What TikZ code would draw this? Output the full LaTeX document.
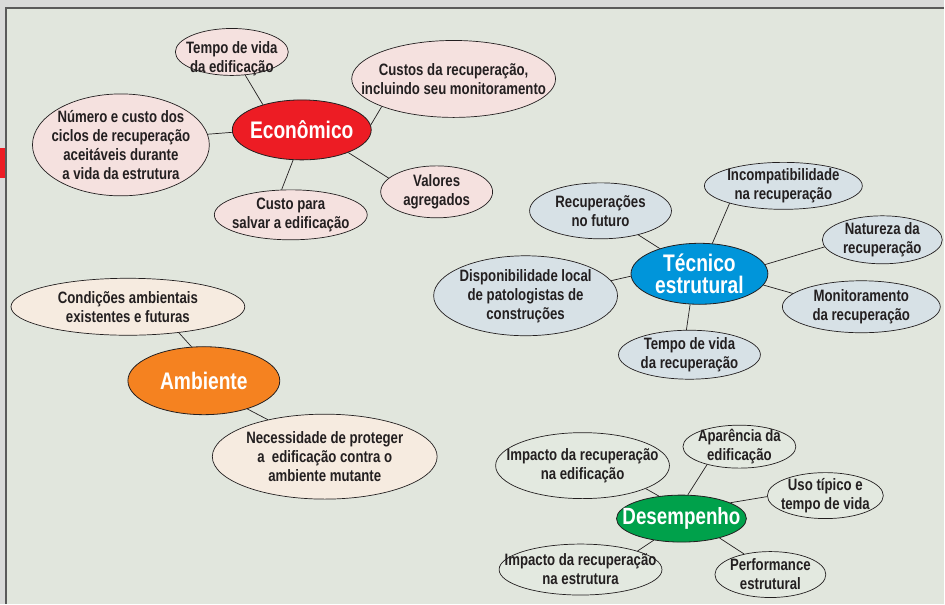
\documentclass[tikz,border=0pt]{standalone}
\usepackage{fontspec}
\setmainfont{Liberation Sans}[FakeStretch=0.8]
\usetikzlibrary{shapes.geometric}

\definecolor{pagegray}{HTML}{D9DAD9}
\definecolor{framebg}{HTML}{E1E6DD}
\definecolor{framegray}{HTML}{5A5A5A}
\definecolor{inkdark}{HTML}{231F20}
\definecolor{econred}{HTML}{ED1C24}
\definecolor{tecblue}{HTML}{0095DA}
\definecolor{ambor}{HTML}{F58220}
\definecolor{desgreen}{HTML}{00A14B}
\definecolor{econfill}{HTML}{F5E1DF}
\definecolor{tecfill}{HTML}{D7E1E6}
\definecolor{ambfill}{HTML}{F6EBE0}
\definecolor{desfill}{HTML}{E3E9E0}

\tikzset{
  topictext/.style={inner sep=0pt, align=center, text=white, font=\bfseries\fontsize{24}{22}\selectfont},
  leaftext/.style={inner sep=0pt, align=center, text=inkdark, font=\bfseries\fontsize{16.5}{19}\selectfont},
  topic/.style={ellipse, draw=inkdark, line width=0.8pt, inner sep=0pt,
    label={[topictext]center:#1}},
  leaf/.style={ellipse, draw=inkdark, line width=0.7pt, inner sep=0pt,
    label={[leaftext]center:#1}},
  lowleaf/.style={ellipse, draw=inkdark, line width=0.7pt, inner sep=0pt,
    label={[leaftext, yshift=-7pt]center:#1}},
  link/.style={draw=inkdark, line width=0.7pt}
}

\begin{document}
\begin{tikzpicture}[x=1pt, y=-1pt]
  % --------
  % Frame
  % --------
  \fill[pagegray] (0,0) rectangle (945,604);
  \fill[framebg] (6,8) rectangle (945,604);
  \draw[framegray, line width=1.5pt] (6,604) -- (6,8) -- (945,8);
  \fill[econred] (0,148) rectangle (5,178);
  \useasboundingbox (0,0) rectangle (945,604);

  % --------
  % Economico
  % --------
  \node[topic={Econômico}, fill=econred, minimum width=139, minimum height=60] at (302,130) (econ) {};
  \node[lowleaf={Tempo de vida\\da edificação}, fill=econfill, minimum width=113, minimum height=47] at (232,52) (tempoedif) {};
  \node[leaf={Custos da recuperação,\\incluindo seu monitoramento}, fill=econfill, minimum width=204, minimum height=77] at (454,79) (custos) {};
  \node[leaf={Número e custo dos\\ciclos de recuperação\\aceitáveis durante\\a vida da estrutura}, fill=econfill, minimum width=177, minimum height=102] at (121,145) (ciclos) {};
  \node[leaf={Custo para\\salvar a edificação}, fill=econfill, minimum width=153, minimum height=50] at (291,215) (salvar) {};
  \node[leaf={Valores\\agregados}, fill=econfill, minimum width=112, minimum height=52] at (437,192) (valores) {};

  % --------
  % Tecnico estrutural
  % --------
  \node[topic={Técnico\\estrutural}, fill=tecblue, minimum width=137, minimum height=61] at (700,274) (tec) {};
  \node[leaf={Recuperações\\no futuro}, fill=tecfill, minimum width=142, minimum height=56] at (601,211) (futuro) {};
  \node[leaf={Incompatibilidade\\na recuperação}, fill=tecfill, minimum width=158, minimum height=47] at (784,186) (incomp) {};
  \node[leaf={Natureza da\\recuperação}, fill=tecfill, minimum width=120, minimum height=48] at (883,240) (natureza) {};
  \node[leaf={Disponibilidade local\\de patologistas de\\construções}, fill=tecfill, minimum width=184, minimum height=80] at (526,296) (dispon) {};
  \node[leaf={Monitoramento\\da recuperação}, fill=tecfill, minimum width=158, minimum height=52] at (862,307) (monit) {};
  \node[leaf={Tempo de vida\\da recuperação}, fill=tecfill, minimum width=142, minimum height=49] at (690,355) (temporec) {};

  % --------
  % Ambiente
  % --------
  \node[topic={Ambiente}, fill=ambor, minimum width=152, minimum height=68] at (204,381) (amb) {};
  \node[leaf={Condições ambientais\\existentes e futuras}, fill=ambfill, minimum width=234, minimum height=57] at (128,307) (condicoes) {};
  \node[leaf={Necessidade de proteger\\a~ edificação contra o\\ambiente mutante}, fill=ambfill, minimum width=225, minimum height=85] at (325,457) (proteger) {};

  % --------
  % Desempenho
  % --------
  \node[topic={\fontsize{23.5}{22}\selectfont Desempenho}, fill=desgreen, minimum width=130, minimum height=47] at (682,519) (desemp) {};
  \node[leaf={Impacto da recuperação\\na edificação}, fill=desfill, minimum width=174, minimum height=66] at (583,466) (impedif) {};
  \node[leaf={Aparência da\\edificação}, fill=desfill, minimum width=113, minimum height=43] at (740,447) (aparencia) {};
  \node[leaf={Uso típico e\\tempo de vida}, fill=desfill, minimum width=116, minimum height=46] at (826,496) (uso) {};
  \node[leaf={Impacto da recuperação\\na estrutura}, fill=desfill, minimum width=163, minimum height=51] at (581,570) (impestr) {};
  \node[leaf={Performance\\estrutural}, fill=desfill, minimum width=111, minimum height=46] at (771,575) (perform) {};

  % Draw lines
  \draw[link] (tempoedif.300) -- (econ.147);
  \draw[link] (custos.201) -- (econ.4);
  \draw[link] (ciclos.7) -- (econ.182);
  \draw[link] (salvar.110) -- (econ.254);
  \draw[link] (valores.164) -- (econ.334);

  \draw[link] (futuro) -- (tec);
  \draw[link] (incomp.198) -- (tec.67);
  \draw[link] (natureza.187) -- (tec.8);
  \draw[link] (dispon.10) -- (tec.182);
  \draw[link] (monit.169) -- (tec.350);
  \draw[link] (temporec.97) -- (tec.253);

  \draw[link] (condicoes.333) -- (amb.110);
  \draw[link] (proteger.147) -- (amb.327);

  \draw[link] (impedif.340) -- (desemp.135);
  \draw[link] (aparencia.209) -- (desemp.75);
  \draw[link] (uso.181) -- (desemp.18);
  \draw[link] (impestr.18) -- (desemp.218);
  \draw[link] (perform.142) -- (desemp.333);
\end{tikzpicture}
\end{document}
